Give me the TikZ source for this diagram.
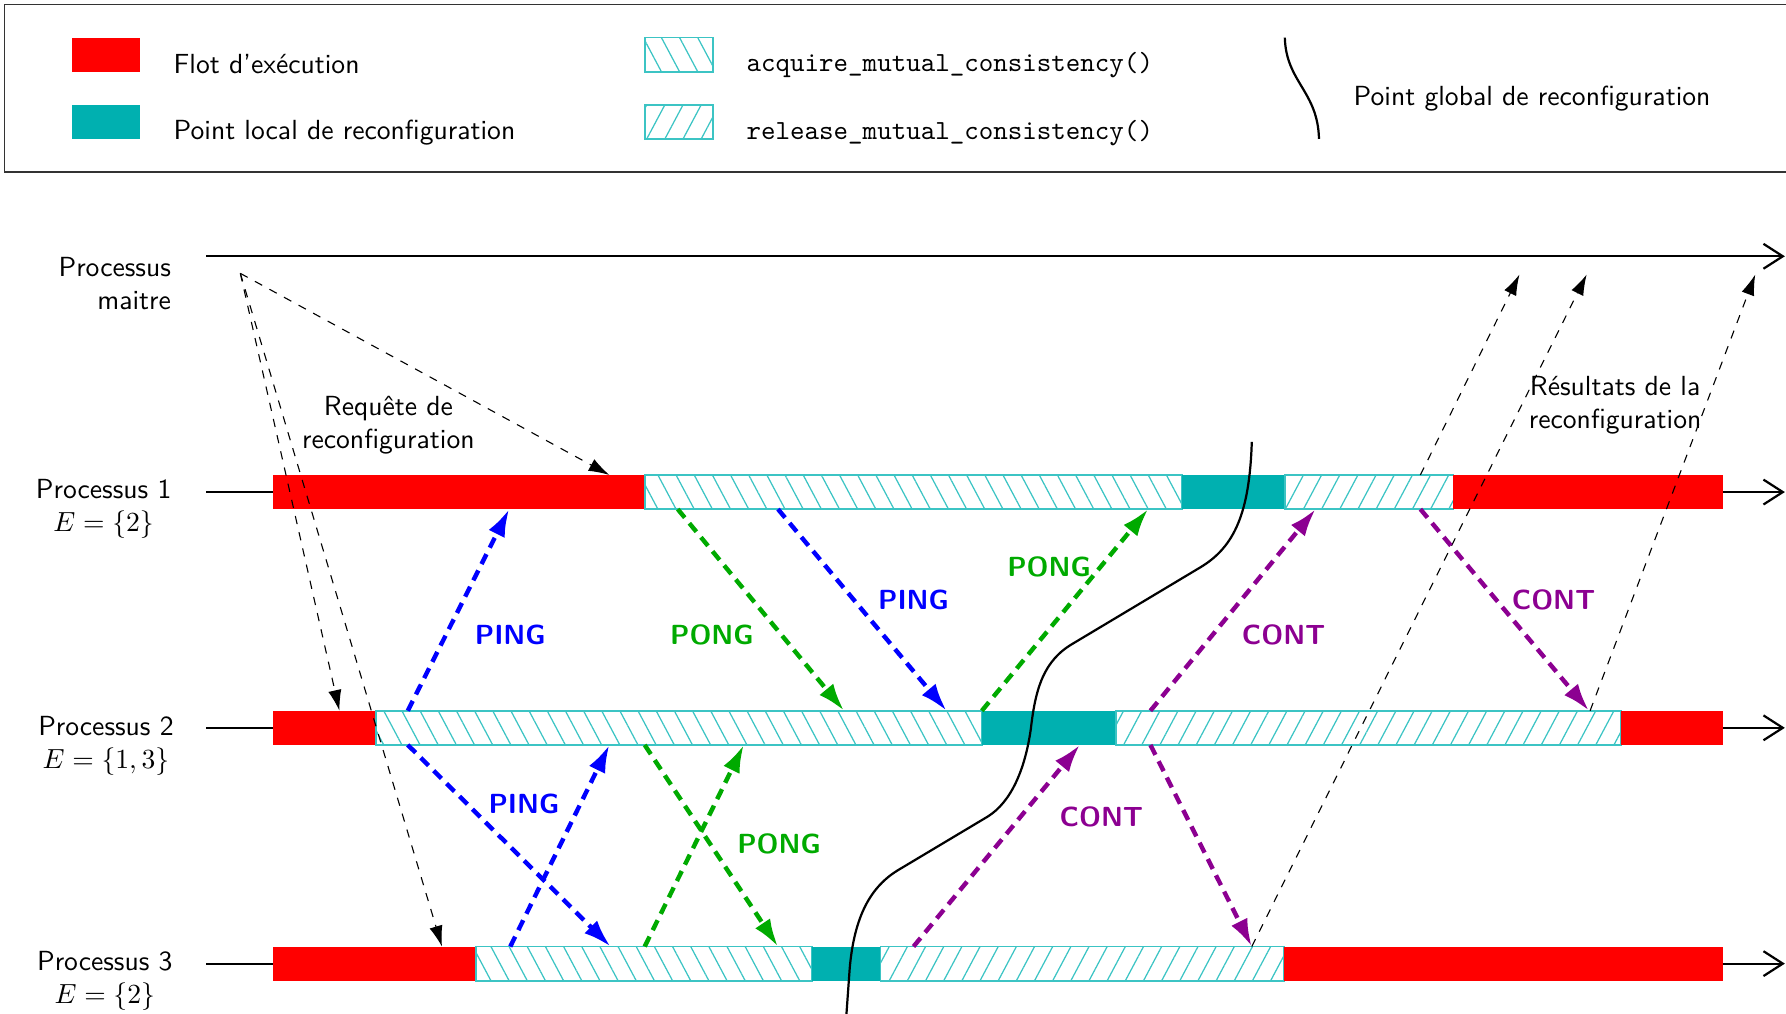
\documentclass[tikz,border=0pt]{standalone}
\usepackage{fontspec}
\usetikzlibrary{arrows.meta,patterns.meta}

\definecolor{flot}{RGB}{255,0,0}
\definecolor{localpt}{RGB}{0,176,176}
\definecolor{hatchc}{RGB}{60,196,196}
\definecolor{pingc}{RGB}{0,0,255}
\definecolor{pongc}{RGB}{0,170,0}
\definecolor{contc}{RGB}{140,0,145}

\tikzset{
  flotbox/.style={fill=flot},
  localbox/.style={fill=localpt},
  acqbox/.style={draw=hatchc, line width=0.6pt, pattern color=hatchc,
    pattern={Lines[angle=-62,distance=5.8pt,line width=0.45pt]}},
  relbox/.style={draw=hatchc, line width=0.6pt, pattern color=hatchc,
    pattern={Lines[angle=62,distance=5.8pt,line width=0.45pt]}},
  axisline/.style={thick},
  axisarrow/.style={thick,-{Straight Barb[length=7pt,width=9pt]}},
  ctrl/.style={thin,dashed,-{Latex[length=7.5pt,width=4.8pt]}},
  msg/.style={ultra thick,dash pattern=on 4pt off 2.6pt,-{Latex[length=10pt,width=6.5pt]}},
  ping/.style={msg,draw=pingc},
  pong/.style={msg,draw=pongc},
  cont/.style={msg,draw=contc},
  msglabel/.style={font=\sffamily\bfseries,inner sep=1pt},
  plabel/.style={font=\sffamily,align=center,inner sep=1pt},
  legtext/.style={font=\sffamily,anchor=west,inner sep=0pt},
  globalcurve/.style={thick}
}

\begin{document}
\begin{tikzpicture}[x=0.412pt,y=-0.412pt]
\useasboundingbox (0,0) rectangle (1568,890);

% ---------- legend ----------
\draw[draw=black!80,line width=0.5pt] (4,4) rectangle (1580,151);
\fill[flotbox] (63,33) rectangle (123,63);
\node[legtext] (lg1) at (152,56) {Flot d'exécution};
\fill[localbox] (63,92) rectangle (123,122);
\node[legtext] (lg2) at (152,116) {Point local de reconfiguration};
\path[acqbox] (566,33) rectangle (626,63);
\node[legtext] (lg3) at (655,57) {\texttt{acquire\_mutual\_consistency()}};
\path[relbox] (566,92) rectangle (626,122);
\node[legtext] (lg4) at (655,117) {\texttt{release\_mutual\_consistency()}};
\draw[globalcurve] (1128,33) .. controls (1129,72) and (1157,80) .. (1158,122);
\node[legtext] (lg5) at (1188,87) {Point global de reconfiguration};

% ---------- process labels ----------
\node[plabel,align=right,anchor=east] (lm) at (153,249) {Processus\\maitre};
\node[plabel] (l1) at (91,447) {Processus 1\\$E=\{2\}$};
\node[plabel] (l2) at (93,655) {Processus 2\\$E=\{1,3\}$};
\node[plabel] (l3) at (92,861) {Processus 3\\$E=\{2\}$};

% ---------- time axes ----------
\draw[axisarrow] (181,225) -- (1567,225);
\foreach \y in {432,639,846}{
  \draw[axisline] (181,\y) -- (240,\y);
  \draw[axisarrow] (1513,\y) -- (1567,\y);
}

% ---------- process 1 ----------
\fill[flotbox] (240,417) rectangle (566,447);
\path[acqbox] (566,417) rectangle (1038,447);
\fill[localbox] (1038,417) rectangle (1128,447);
\path[relbox] (1128,417) rectangle (1276,447);
\fill[flotbox] (1276,417) rectangle (1513,447);

% ---------- process 2 ----------
\fill[flotbox] (240,624) rectangle (330,654);
\path[acqbox] (330,624) rectangle (862,654);
\fill[localbox] (862,624) rectangle (980,654);
\path[relbox] (980,624) rectangle (1423,654);
\fill[flotbox] (1423,624) rectangle (1513,654);

% ---------- process 3 ----------
\fill[flotbox] (240,831) rectangle (418,861);
\path[acqbox] (418,831) rectangle (713,861);
\fill[localbox] (713,831) rectangle (773,861);
\path[relbox] (773,831) rectangle (1127,861);
\fill[flotbox] (1127,831) rectangle (1513,861);

% ---------- end points of the exchanges ----------
\coordinate (m0) at (211,240);
\coordinate (r1) at (535,417);
\coordinate (r2) at (298,624);
\coordinate (r3) at (388,831);
\coordinate (s1a) at (1247,417);
\coordinate (s1b) at (1334,241);
\coordinate (s2a) at (1396,624);
\coordinate (s2b) at (1541,241);
\coordinate (s3a) at (1099,831);
\coordinate (s3b) at (1393,241);

\coordinate (pi1a) at (358,624);  \coordinate (pi1b) at (447,447);
\coordinate (pi2a) at (683,447);  \coordinate (pi2b) at (831,624);
\coordinate (pi3a) at (358,654);  \coordinate (pi3b) at (536,831);
\coordinate (pi4a) at (448,831);  \coordinate (pi4b) at (535,654);
\coordinate (po1a) at (595,447);  \coordinate (po1b) at (741,624);
\coordinate (po2a) at (862,624);  \coordinate (po2b) at (1008,447);
\coordinate (po3a) at (566,831);  \coordinate (po3b) at (653,654);
\coordinate (po4a) at (566,654);  \coordinate (po4b) at (683,831);
\coordinate (co1a) at (802,831);  \coordinate (co1b) at (948,654);
\coordinate (co2a) at (1010,624); \coordinate (co2b) at (1155,447);
\coordinate (co3a) at (1247,447); \coordinate (co3b) at (1395,624);
\coordinate (co4a) at (1010,654); \coordinate (co4b) at (1099,831);

% ---------- reconfiguration requests and results ----------
\draw[ctrl] (m0) -- (r1);
\draw[ctrl] (m0) -- (r2);
\draw[ctrl] (m0) -- (r3);
\draw[ctrl] (s1a) -- (s1b);
\draw[ctrl] (s2a) -- (s2b);
\draw[ctrl] (s3a) -- (s3b);
\node[plabel] (req) at (341,373) {Requête de\\reconfiguration};
\node[plabel] (res) at (1418,356) {Résultats de la\\reconfiguration};

% ---------- PING / PONG / CONT messages ----------
\draw[ping] (pi1a) -- (pi1b);
\draw[ping] (pi2a) -- (pi2b);
\draw[ping] (pi3a) -- (pi3b);
\draw[ping] (pi4a) -- (pi4b);
\draw[pong] (po1a) -- (po1b);
\draw[pong] (po2a) -- (po2b);
\draw[pong] (po3a) -- (po3b);
\draw[pong] (po4a) -- (po4b);
\draw[cont] (co1a) -- (co1b);
\draw[cont] (co2a) -- (co2b);
\draw[cont] (co3a) -- (co3b);
\draw[cont] (co4a) -- (co4b);

\node[msglabel,text=pingc] (t1) at (448,557) {PING};
\node[msglabel,text=pongc] (t2) at (625,557) {PONG};
\node[msglabel,text=pingc] (t3) at (802,527) {PING};
\node[msglabel,text=pongc] (t4) at (921,498) {PONG};
\node[msglabel,text=pingc] (t5) at (460,706) {PING};
\node[msglabel,text=pongc] (t6) at (684,741) {PONG};
\node[msglabel,text=contc] (t7) at (967,717) {CONT};
\node[msglabel,text=contc] (t8) at (1127,557) {CONT};
\node[msglabel,text=contc] (t9) at (1364,527) {CONT};

% ---------- global reconfiguration point ----------
\draw[globalcurve] (1099,388) .. controls (1097,450) and (1084,480) .. (1054,498)
  -- (942,565) .. controls (916,580) and (909,605) .. (905,640)
  .. controls (900,675) and (888,704) .. (867,717)
  -- (790,763) .. controls (764,778) and (750,805) .. (746,850) -- (743,892);
\end{tikzpicture}
\end{document}
